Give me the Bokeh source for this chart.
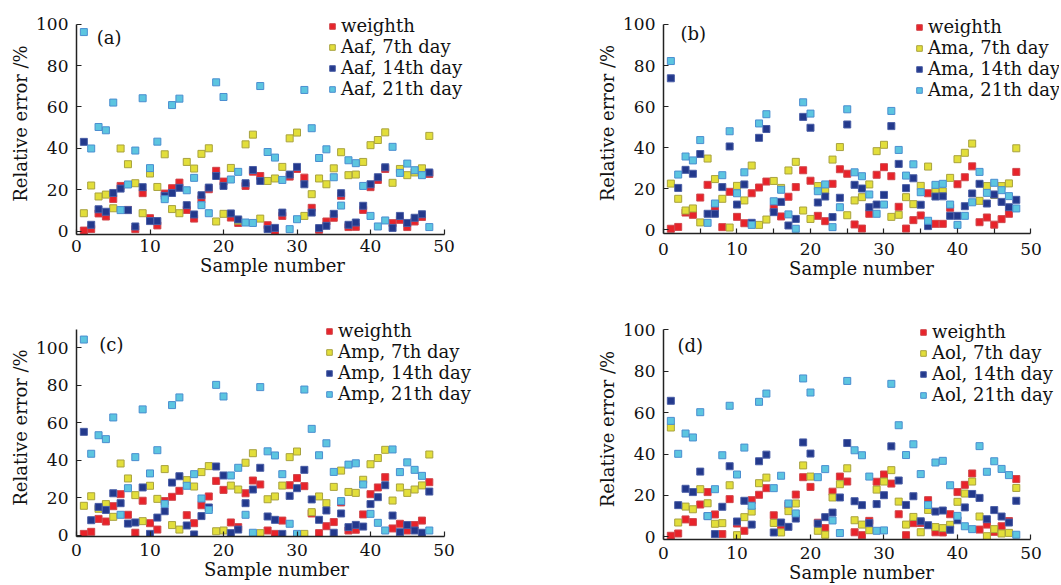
from bokeh.plotting import figure
from bokeh.layouts import column, row
from bokeh.models import FixedTicker, Legend, LegendItem, Label
from bokeh.embed import file_html
from bokeh.resources import INLINE

samples = list(range(1, 49))

# ---------------- panel (a): Aaf ----------------
weighth_a = [0.2, 1.0, 8.5, 7.0, 15.5, 21.8, 10.2, 0.9, 18.3, 6.2, 2.7, 18.1, 20.7, 23.4, 10.2, 6.0,
             15.4, 20.2, 29.1, 23.9, 6.5, 3.9, 21.8, 28.7, 26.6, 2.8, 0.1, 7.3, 26.3, 30.0, 25.8, 11.2,
             0.6, 4.6, 6.4, 17.0, 1.9, 2.0, 10.2, 21.2, 24.7, 30.0, 3.8, 5.4, 1.9, 4.6, 6.8, 27.6]
d7_a = [8.6, 22.0, 16.7, 17.6, 11.0, 39.9, 32.3, 23.1, 8.6, 27.8, 21.3, 37.1, 10.6, 8.6, 33.4, 30.2,
        37.3, 40.0, 4.6, 8.3, 30.5, 5.0, 41.9, 46.6, 6.0, 24.2, 25.4, 31.0, 44.8, 47.6, 7.3, 17.8,
        25.4, 22.6, 30.3, 38.1, 27.0, 27.3, 33.4, 41.5, 44.0, 47.7, 23.3, 30.0, 27.0, 28.3, 30.3, 46.0]
d14_a = [43.1, 3.0, 10.5, 9.3, 18.4, 20.5, 10.1, 2.2, 21.2, 4.8, 4.8, 17.0, 18.4, 20.9, 12.5, 8.0,
         17.3, 21.0, 26.6, 21.8, 8.5, 5.6, 23.1, 29.5, 24.2, 0.9, 1.5, 8.9, 27.3, 31.0, 22.6, 8.9,
         1.4, 2.5, 8.3, 18.3, 3.0, 4.1, 12.2, 22.6, 26.0, 30.8, 1.5, 7.3, 3.9, 6.4, 8.1, 28.3]
d21_a = [96.2, 39.9, 50.3, 48.7, 62.1, 10.1, 22.5, 38.9, 64.2, 30.4, 43.2, 15.4, 60.9, 64.0, 19.7, 25.7,
         12.5, 8.6, 71.9, 64.8, 24.9, 28.6, 4.1, 3.9, 70.1, 38.2, 35.5, 24.7, 0.9, 5.7, 68.2, 49.7,
         35.3, 39.5, 26.0, 12.3, 34.2, 32.8, 21.8, 7.3, 2.2, 5.1, 40.7, 28.1, 32.6, 29.4, 27.0, 1.9]

# ---------------- panel (b): Ama ----------------
weighth_b = [0.5, 1.4, 8.4, 7.3, 15.7, 21.9, 10.5, 1.3, 18.5, 6.3, 3.2, 17.8, 20.6, 23.5, 10.5, 6.5,
             16.1, 20.8, 29.0, 23.9, 6.8, 4.2, 22.4, 29.5, 27.3, 2.6, 0.6, 7.8, 26.8, 30.5, 26.1, 11.2,
             0.6, 4.7, 7.0, 17.8, 2.9, 2.9, 10.7, 22.2, 25.6, 30.9, 3.7, 6.0, 2.5, 5.2, 7.8, 28.2]
d7_b = [22.5, 15.1, 9.4, 10.4, 3.6, 34.7, 24.7, 15.1, 1.1, 21.4, 14.3, 31.3, 2.4, 5.0, 23.8, 20.4,
        28.9, 33.1, 9.4, 5.3, 21.3, 19.0, 34.2, 40.3, 7.1, 14.3, 15.9, 22.1, 38.3, 41.4, 6.3, 7.3,
        15.9, 12.5, 21.4, 30.8, 18.7, 18.7, 25.3, 34.4, 37.5, 42.0, 14.1, 21.3, 17.0, 21.3, 22.6, 39.7]
d14_b = [73.8, 20.4, 29.2, 27.3, 36.9, 7.8, 7.8, 20.8, 40.6, 12.3, 22.1, 3.4, 44.8, 49.1, 8.6, 13.6,
         2.1, 5.3, 55.0, 49.7, 13.3, 16.2, 6.2, 15.6, 51.3, 21.9, 20.1, 11.0, 12.3, 17.0, 50.5, 32.1,
         20.3, 25.1, 12.2, 1.8, 16.2, 16.3, 6.8, 6.8, 11.5, 17.7, 22.4, 12.8, 17.2, 13.6, 11.0, 14.6]
d21_b = [82.2, 26.9, 35.7, 33.8, 43.7, 3.4, 12.8, 26.6, 48.0, 17.8, 28.0, 2.4, 51.8, 56.3, 13.9, 19.5,
         7.5, 0.5, 62.1, 56.6, 18.8, 22.1, 1.3, 11.0, 58.7, 28.0, 26.1, 17.2, 7.8, 12.3, 57.9, 38.9,
         26.4, 31.9, 18.3, 4.4, 21.9, 22.4, 12.3, 2.4, 6.8, 13.4, 28.2, 18.0, 22.9, 19.3, 16.4, 10.4]

# ---------------- panel (c): Amp ----------------
weighth_c = [0.6, 1.7, 8.6, 7.2, 15.4, 21.8, 10.8, 1.2, 18.3, 6.3, 2.9, 18.1, 20.4, 23.6, 10.6, 6.3,
             15.9, 20.6, 28.9, 24.1, 6.7, 4.2, 22.3, 29.1, 27.0, 2.4, 0.6, 7.7, 26.6, 30.4, 26.1, 11.5,
             1.0, 4.7, 6.9, 17.4, 2.4, 2.8, 11.0, 21.8, 25.4, 30.9, 3.5, 6.0, 2.4, 5.3, 7.7, 28.2]
d7_c = [15.6, 20.7, 14.0, 16.5, 9.7, 38.2, 30.2, 21.3, 7.4, 26.3, 19.3, 35.2, 5.3, 2.9, 29.3, 25.9,
        33.6, 36.8, 2.0, 2.4, 26.4, 24.3, 38.6, 43.7, 1.0, 19.1, 20.6, 26.4, 41.6, 44.6, 0.6, 12.2,
        20.6, 17.0, 25.7, 34.4, 23.0, 22.5, 29.5, 37.8, 41.1, 45.5, 18.4, 25.4, 22.5, 24.3, 26.5, 43.0]
d14_c = [55.1, 7.9, 15.0, 13.4, 22.3, 17.0, 6.1, 6.7, 25.4, 0.6, 9.3, 12.7, 28.0, 31.4, 5.1, 0.3,
         10.1, 14.7, 36.6, 31.8, 1.0, 2.9, 17.0, 24.3, 35.9, 9.9, 8.1, 0.6, 20.9, 25.0, 34.8, 19.0,
         8.1, 13.1, 1.2, 11.5, 4.2, 5.4, 4.5, 16.5, 20.2, 26.6, 10.4, 1.5, 5.3, 2.4, 1.2, 23.2]
d21_c = [104.4, 43.4, 53.3, 51.2, 62.8, 10.8, 25.0, 41.6, 67.1, 32.9, 45.3, 16.6, 69.4, 73.5, 26.3, 32.5,
         19.5, 13.4, 80.2, 74.0, 31.8, 35.9, 10.8, 1.2, 79.0, 44.7, 42.5, 32.5, 6.0, 0.6, 77.7, 56.7,
         42.6, 49.0, 33.7, 18.1, 37.6, 38.3, 27.0, 11.3, 6.5, 2.4, 45.7, 33.6, 38.8, 34.8, 31.6, 2.4]

# ---------------- panel (d): Aol ----------------
weighth_d = [0.5, 1.6, 8.4, 7.1, 15.6, 21.6, 10.8, 1.3, 18.2, 6.4, 2.9, 17.7, 20.3, 23.5, 10.4, 5.5,
             15.3, 20.4, 28.8, 24.1, 6.8, 4.2, 21.8, 29.1, 26.7, 2.2, 0.8, 7.7, 26.6, 30.1, 25.7, 10.9,
             0.8, 6.6, 6.7, 17.7, 2.2, 2.1, 10.9, 21.6, 25.1, 30.6, 3.5, 5.9, 2.4, 5.1, 7.6, 27.9]
d7_d = [52.8, 6.9, 14.6, 13.3, 23.0, 16.2, 6.3, 6.6, 24.9, 0.8, 9.5, 12.2, 25.9, 28.6, 6.7, 2.1,
        12.4, 16.1, 34.5, 29.1, 2.9, 1.0, 19.0, 25.4, 33.1, 8.0, 5.9, 3.2, 22.8, 26.7, 32.2, 17.0,
        5.9, 9.6, 2.2, 13.0, 4.7, 4.2, 5.8, 16.9, 20.9, 26.7, 9.8, 0.3, 3.7, 1.6, 1.9, 23.6]
d14_d = [65.7, 15.3, 23.2, 21.6, 31.5, 10.0, 1.3, 14.5, 34.1, 7.4, 17.4, 5.9, 36.5, 39.7, 2.1, 6.9,
         4.8, 8.8, 45.6, 40.2, 6.4, 9.5, 11.7, 19.0, 45.3, 17.2, 15.3, 6.6, 15.8, 20.1, 43.7, 27.2,
         15.4, 19.6, 7.5, 5.6, 12.2, 12.7, 3.4, 8.0, 14.2, 20.7, 18.8, 8.5, 12.9, 9.8, 6.9, 17.4]
d21_d = [56.0, 40.1, 49.9, 48.0, 60.2, 10.0, 23.0, 39.4, 63.3, 30.1, 43.1, 15.0, 65.2, 69.2, 23.5, 29.5,
         16.1, 11.3, 76.5, 69.7, 28.8, 32.7, 7.9, 1.8, 75.3, 41.8, 39.4, 29.1, 2.9, 3.1, 73.9, 53.9,
         39.5, 44.7, 30.3, 15.4, 35.9, 36.7, 24.9, 10.1, 5.1, 3.7, 43.8, 31.4, 36.5, 32.8, 29.8, 1.0]

x_ticks = [0, 10, 20, 30, 40, 50]
y_ticks = [0, 20, 40, 60, 80, 100]

FONT = "DejaVu Serif"
FILL = ["#e8232a", "#e2de3a", "#23398c", "#5cc5e0"]
EDGE = ["#d0464b", "#a8a23e", "#4a5ea6", "#4a8ed0"]


def panel(tag, code, series, x_end, y_rng, y_axis_top, frame_w, frame_h, borders,
          legend_loc, tag_xy, x_lab_standoff, x_axis_standoff, minor_x=False):
    left, right, top, bottom = borders
    p = figure(frame_width=frame_w, frame_height=frame_h, x_range=(0, x_end), y_range=y_rng,
               output_backend="svg", toolbar_location=None,
               min_border_left=left, min_border_right=right,
               min_border_top=top, min_border_bottom=bottom)
    p.xgrid.visible = False
    p.ygrid.visible = False
    p.outline_line_color = None
    p.background_fill_color = "white"
    p.border_fill_color = "white"

    names = ["weighth", f"{code}, 7th day", f"{code}, 14th day", f"{code}, 21th day"]
    items = []
    for vals, name, fc, lc in zip(series, names, FILL, EDGE):
        r = p.scatter(samples, vals, marker="square", size=7, fill_color=fc,
                      line_color=lc, line_width=1)
        items.append(LegendItem(label=name, renderers=[r]))

    if minor_x:
        p.xaxis.ticker = FixedTicker(ticks=x_ticks, minor_ticks=[5, 15, 25, 35, 45])
        p.xaxis.minor_tick_in = 5
        p.xaxis.minor_tick_out = 0
        p.xaxis.minor_tick_line_color = "#222222"
        p.xaxis.minor_tick_line_width = 1.2
    else:
        p.xaxis.ticker = FixedTicker(ticks=x_ticks)
        p.xaxis.minor_tick_line_color = None
    p.yaxis.ticker = FixedTicker(ticks=y_ticks)
    p.yaxis.minor_tick_line_color = None
    p.xaxis.bounds = (0, 50)
    p.yaxis.bounds = (y_rng[0], y_axis_top)

    for ax in (p.xaxis[0], p.yaxis[0]):
        ax.axis_line_color = "#222222"
        ax.axis_line_width = 1.5
        ax.major_tick_line_color = "#222222"
        ax.major_tick_line_width = 1.2
        ax.major_tick_in = 5
        ax.major_tick_out = 0
        ax.major_label_text_font = FONT
        ax.major_label_text_font_size = "17px"
        ax.major_label_text_color = "#111111"
        ax.axis_label_text_font = FONT
        ax.axis_label_text_font_size = "18px"
        ax.axis_label_text_font_style = "normal"
        ax.axis_label_text_color = "#111111"

    p.xaxis.axis_label = "Sample number"
    p.yaxis.axis_label = "Relative error /%"
    p.xaxis.major_label_standoff = x_lab_standoff
    p.xaxis.axis_label_standoff = x_axis_standoff
    p.yaxis.major_label_standoff = 8
    p.yaxis.axis_label_standoff = 2

    legend = Legend(items=items, location=legend_loc, background_fill_alpha=0,
                    border_line_color=None, padding=0, margin=0, spacing=0,
                    glyph_width=14, glyph_height=14, label_standoff=2,
                    label_height=21, label_text_font=FONT,
                    label_text_font_size="18px", label_text_color="#111111")
    p.add_layout(legend)

    p.add_layout(Label(x=tag_xy[0], y=tag_xy[1], text=tag, text_font=FONT,
                       text_font_size="18px", text_align="left",
                       text_baseline="middle", text_color="#111111"))
    return p


# frames keep 7.35 px per sample; extra room on the right holds the legends
pa = panel("(a)", "Aaf", [weighth_a, d7_a, d14_a, d21_a], 53.33, (-1.69, 105.66), 100,
           392, 222, (76, 107, 10, 68), (249, 135), (2.75, 93.5), 5, 0)
pb = panel("(b)", "Ama", [weighth_b, d7_b, d14_b, d21_b], 53.88, (-1.8, 105.84), 100,
           396, 221, (88, 1, 12, 67), (249, 133), (2.3, 95.5), 9, 0, minor_x=True)
pc = panel("(c)", "Amp", [weighth_c, d7_c, d14_c, d21_c], 54.42, (-0.8, 115.65), 110,
           400, 218, (76, 99, 18, 49), (246, 132), (3.1, 102.0), 7, 0)
pd = panel("(d)", "Aol", [weighth_d, d7_d, d14_d, d21_d], 53.88, (-1.3, 105.46), 100,
           396, 221, (88, 1, 16, 48), (253, 134), (1.9, 92.3), 7, 0)

layout = column(row(pa, pb), row(pc, pd))

open("out.html", "w").write(file_html(layout, INLINE))
